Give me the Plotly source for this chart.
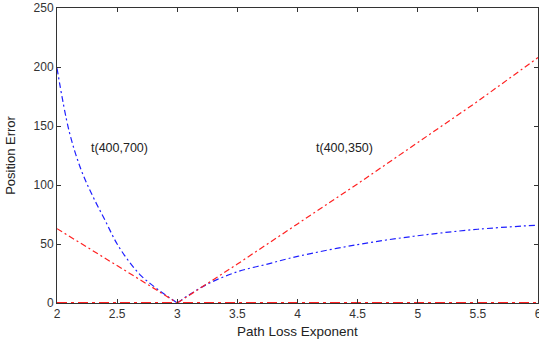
import plotly.graph_objects as go

# Path loss exponent (x) and position error readings
x_left = [2.0, 2.1, 2.2, 2.3, 2.4, 2.5, 2.6, 2.7, 2.8, 2.9, 3.0]
blue_left = [199, 146, 113, 90, 70, 50, 35, 23, 14.5, 7, 0]
x_red_left = [2.0, 2.25, 2.5, 2.75, 3.0]
red_left = [63, 47.5, 32, 16, 0]

x_blue_right = [3.0, 3.1, 3.25, 3.5, 3.75, 4.0, 4.5, 5.0, 5.5, 6.0]
blue_right = [0, 7, 16, 26.5, 33, 39.5, 49.5, 57, 62.5, 66]
x_red_right = [3.0, 3.5, 4.0, 4.5, 5.0, 5.5, 6.0]
red_right = [0, 33, 67, 101, 136, 171, 208]

x_zero = [2.0, 6.0]
zero_line = [0, 0]

labels = ["t(400,700)", "t(400,350)"]
label_x = [2.52, 4.39]
label_y = [131, 131]

x_ticks = [2, 2.5, 3, 3.5, 4, 4.5, 5, 5.5, 6]
y_ticks = [0, 50, 100, 150, 200, 250]

FONT = "Liberation Sans, Arial"
dash = "6px,3px,2px,3px"
fig = go.Figure()
fig.add_trace(go.Scatter(x=x_left, y=blue_left, mode="lines", line=dict(color="#1f1fff", width=1.2, dash=dash, shape="spline")))
fig.add_trace(go.Scatter(x=x_blue_right, y=blue_right, mode="lines", line=dict(color="#1f1fff", width=1.2, dash=dash, shape="spline")))
fig.add_trace(go.Scatter(x=x_red_left, y=red_left, mode="lines", line=dict(color="#ff2020", width=1.2, dash=dash)))
fig.add_trace(go.Scatter(x=x_red_right, y=red_right, mode="lines", line=dict(color="#ff2020", width=1.2, dash=dash)))
fig.add_trace(go.Scatter(x=x_zero, y=zero_line, mode="lines", line=dict(color="#ff2020", width=2, dash="10px,4px,3px,4px")))

for t, lx, ly in zip(labels, label_x, label_y):
    fig.add_annotation(x=lx, y=ly, text=t, showarrow=False,
                       font=dict(family=FONT, size=12.5, color="#222"))

fig.add_annotation(x=0.499, y=0, xref="paper", yref="paper", yanchor="middle", xanchor="center",
                   yshift=-28, text="Path Loss Exponent",
                   showarrow=False, font=dict(family=FONT, size=13.5, color="#222"))

axis_common = dict(showline=True, linecolor="#333", linewidth=1, mirror="ticks",
                   ticks="inside", ticklen=4, tickcolor="#333", showgrid=False, zeroline=False,
                   automargin=False, ticklabeloverflow="allow",
                   tickfont=dict(family=FONT, size=12, color="#333"))
fig.update_xaxes(range=[2, 6], tickvals=x_ticks, **axis_common)
fig.update_yaxes(range=[0, 250], tickvals=y_ticks,
                 title=dict(text="Position Error", font=dict(family=FONT, size=13, color="#222")),
                 **axis_common)
fig.update_layout(width=539, height=349, showlegend=False, plot_bgcolor="white", paper_bgcolor="white",
                  margin=dict(l=57, r=1, t=8, b=46))
fig.write_html("out.html", config={"displayModeBar": False},
               post_script="document.body.style.margin='0';document.body.style.overflow='hidden';")
